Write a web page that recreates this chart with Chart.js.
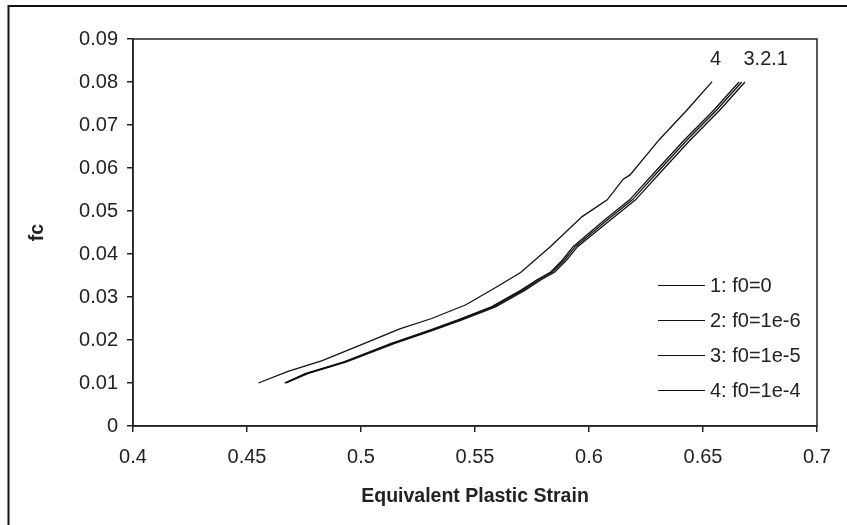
<!DOCTYPE html>
<html>
<head>
<meta charset="utf-8">
<script src="https://cdn.jsdelivr.net/npm/chart.js@4/dist/chart.umd.min.js"></script>
<style>
  body { margin: 0; background: #fff; }
  #wrap { position: relative; width: 847px; height: 525px; }
  #legend { position: absolute; left: 658px; top: 268px; font: 20px "Liberation Sans", Arial, sans-serif; color: #222; }
  .legend-item { height: 35px; display: flex; align-items: center; }
  .legend-line { width: 47px; height: 0; border-top: 1.5px solid #111; margin-right: 5px; }
</style>
</head>
<body>
<div id="wrap">
  <canvas id="chart" width="847" height="525"></canvas>
  <div id="legend"></div>
</div>
<script>
// ── Data ──────────────────────────────────────────────────────

const seriesLabels = ["1: f0=0", "2: f0=1e-6", "3: f0=1e-5", "4: f0=1e-4"];

const x1 = [0.4672, 0.4766, 0.4936, 0.5148, 0.5318, 0.5440, 0.5590, 0.5720, 0.5790, 0.5850, 0.5900, 0.5950, 0.6094, 0.6204, 0.6324, 0.6444, 0.6574, 0.6684];
const y1 = [0.0100, 0.0122, 0.0149, 0.0192, 0.0223, 0.0246, 0.0277, 0.0316, 0.0340, 0.0358, 0.0385, 0.0417, 0.0479, 0.0526, 0.0596, 0.0665, 0.0735, 0.0800];

const x2 = [0.4668, 0.4760, 0.4930, 0.5140, 0.5310, 0.5430, 0.5580, 0.5710, 0.5780, 0.5840, 0.5890, 0.5940, 0.6080, 0.6190, 0.6310, 0.6430, 0.6560, 0.6670];
const y2 = [0.0100, 0.0122, 0.0149, 0.0192, 0.0223, 0.0246, 0.0277, 0.0316, 0.0340, 0.0358, 0.0385, 0.0417, 0.0479, 0.0526, 0.0596, 0.0665, 0.0735, 0.0800];

const x3 = [0.4665, 0.4755, 0.4925, 0.5133, 0.5302, 0.5422, 0.5572, 0.5702, 0.5772, 0.5832, 0.5882, 0.5930, 0.6068, 0.6178, 0.6298, 0.6418, 0.6548, 0.6658];
const y3 = [0.0100, 0.0122, 0.0149, 0.0192, 0.0223, 0.0246, 0.0277, 0.0316, 0.0340, 0.0358, 0.0385, 0.0417, 0.0479, 0.0526, 0.0596, 0.0665, 0.0735, 0.0800];

const x4 = [0.455, 0.468, 0.483, 0.501, 0.517, 0.531, 0.546, 0.560, 0.570, 0.583, 0.597, 0.608, 0.615, 0.618, 0.631, 0.643, 0.654];
const y4 = [0.0100, 0.0127, 0.0152, 0.0191, 0.0226, 0.0250, 0.0282, 0.0325, 0.0357, 0.0417, 0.0487, 0.0526, 0.0574, 0.0584, 0.0667, 0.0735, 0.0801];

const xTicks = [0.4, 0.45, 0.5, 0.55, 0.6, 0.65, 0.7];
const yTicks = [0, 0.01, 0.02, 0.03, 0.04, 0.05, 0.06, 0.07, 0.08, 0.09];

// curve-end annotations
const noteText = ["4", "3.2.1"];
const noteX    = [0.6555, 0.6775];
const noteY    = [0.0853, 0.0853];

const FONT = '"Liberation Sans", Arial, sans-serif';
const INK  = "#222";

function toPoints(xs, ys) {
  return xs.map((x, i) => ({ x, y: ys[i] }));
}

// ── Frame + annotation plugin ─────────────────────────────────

const framePlugin = {
  id: "frame",
  afterDraw(chart) {
    const { ctx, chartArea: a, scales } = chart;
    ctx.save();
    // plot box
    ctx.strokeStyle = INK;
    ctx.lineWidth = 1.5;
    ctx.strokeRect(a.left, a.top, a.right - a.left, a.bottom - a.top);
    // outer figure border (left + top visible)
    ctx.lineWidth = 2;
    ctx.strokeStyle = "#111";
    ctx.beginPath();
    ctx.moveTo(8.5, 525);
    ctx.lineTo(8.5, 6);
    ctx.lineTo(847, 6);
    ctx.stroke();
    // curve labels
    ctx.fillStyle = INK;
    ctx.font = `20px ${FONT}`;
    ctx.textAlign = "center";
    ctx.textBaseline = "middle";
    noteText.forEach((t, i) => {
      ctx.fillText(t, scales.x.getPixelForValue(noteX[i]), scales.y.getPixelForValue(noteY[i]));
    });
    ctx.restore();
  }
};

// ── Chart ─────────────────────────────────────────────────────

const seriesX = [x1, x2, x3, x4];
const seriesY = [y1, y2, y3, y4];

const datasets = seriesLabels.map((label, i) => ({
  label,
  data: toPoints(seriesX[i], seriesY[i]),
  showLine: true,
  borderColor: "#111",
  borderWidth: 1.3,
  pointRadius: 0,
  tension: 0,
}));

const axisGrid = { drawOnChartArea: false, drawTicks: true, tickLength: 6, color: INK, lineWidth: 1.5 };

new Chart(document.getElementById("chart").getContext("2d"), {
  type: "scatter",
  data: { datasets },
  options: {
    responsive: false,
    animation: false,
    layout: { padding: { left: 0, top: 39, right: 30, bottom: 0 } },
    plugins: { legend: { display: false }, tooltip: { enabled: false } },
    scales: {
      x: {
        type: "linear",
        min: 0.4, max: 0.7,
        afterBuildTicks: (s) => { s.ticks = xTicks.map(v => ({ value: v })); },
        afterFit: (s) => { s.height = 99; },
        ticks: { color: INK, font: { family: FONT, size: 20 }, padding: 13, maxRotation: 0, callback: (v) => String(v) },
        grid: axisGrid,
        border: { display: true, color: INK, width: 1.5 },
        title: { display: true, text: "Equivalent Plastic Strain", color: INK,
                 font: { family: FONT, size: 19.5, weight: "bold" }, padding: { top: 0, bottom: 17 } },
      },
      y: {
        type: "linear",
        min: 0, max: 0.09,
        afterBuildTicks: (s) => { s.ticks = yTicks.map(v => ({ value: v })); },
        afterFit: (s) => { s.width = 133; },
        ticks: { color: INK, font: { family: FONT, size: 20 }, padding: 9, callback: (v) => String(v) },
        grid: axisGrid,
        border: { display: true, color: INK, width: 1.5 },
        title: { display: true, text: "fc", color: INK,
                 font: { family: FONT, size: 19.5, weight: "bold" }, padding: { top: 26, bottom: 0 } },
      },
    },
  },
  plugins: [framePlugin],
});

// ── HTML legend ───────────────────────────────────────────────

document.getElementById("legend").innerHTML = seriesLabels.map(l => `
  <div class="legend-item"><span class="legend-line"></span>${l}</div>`).join("");
</script>
</body>
</html>
